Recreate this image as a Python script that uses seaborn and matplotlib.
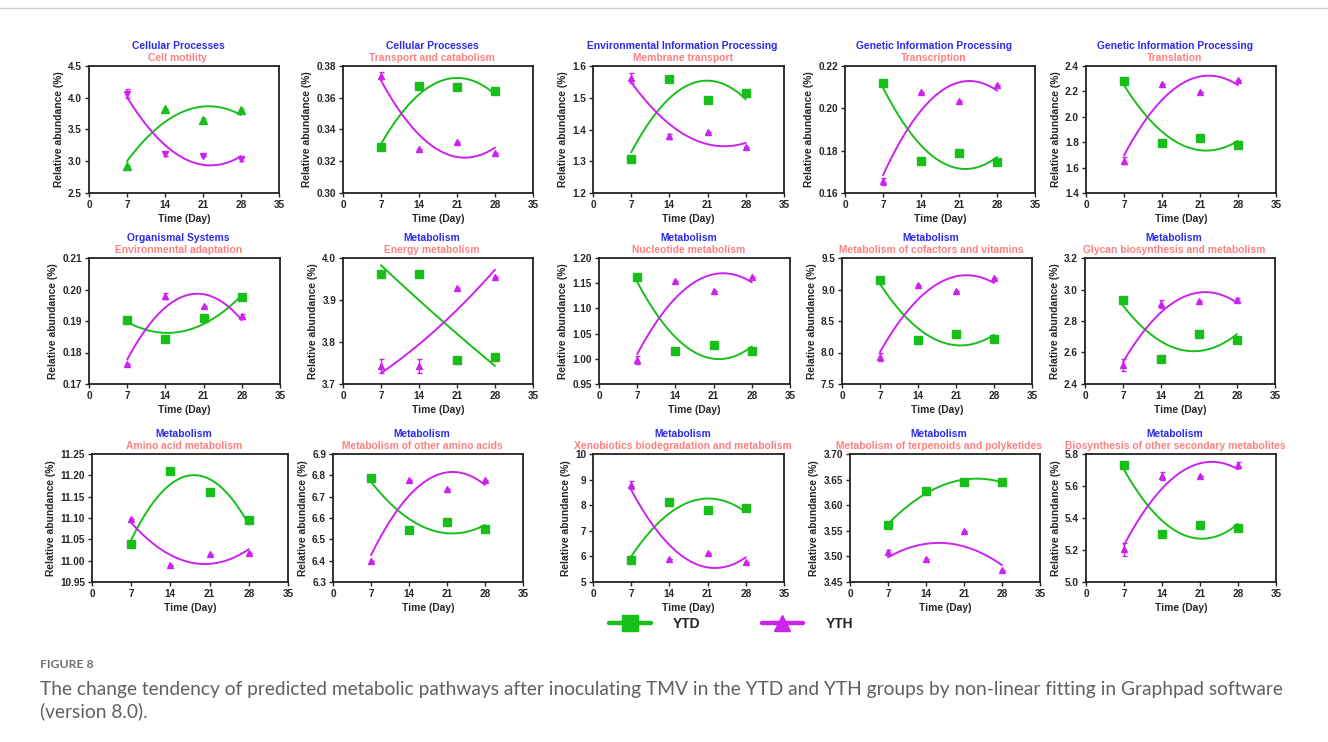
import matplotlib
matplotlib.use("Agg")
import matplotlib.pyplot as plt
import seaborn as sns
import numpy as np
from matplotlib.lines import Line2D

# ---- data ----
days = [7, 14, 21, 28]

categories = [
    "Cellular Processes", "Cellular Processes", "Environmental Information Processing",
    "Genetic Information Processing", "Genetic Information Processing",
    "Organismal Systems", "Metabolism", "Metabolism", "Metabolism", "Metabolism",
    "Metabolism", "Metabolism", "Metabolism", "Metabolism", "Metabolism",
]
pathways = [
    "Cell motility", "Transport and catabolism", "Membrane transport",
    "Transcription", "Translation",
    "Environmental adaptation", "Energy metabolism", "Nucleotide metabolism",
    "Metabolism of cofactors and vitamins", "Glycan biosynthesis and metabolism",
    "Amino acid metabolism", "Metabolism of other amino acids",
    "Xenobiotics biodegradation and metabolism",
    "Metabolism of terpenoids and polyketides",
    "Biosynthesis of other secondary metabolites",
]

no_sd = [0, 0, 0, 0]

# mean relative abundance (%) for YTD / YTH, SD where a bar is visible
motility_ytd = [2.93, 3.83, 3.65, 3.80]
motility_ytd_sd = [0, 0, 0.03, 0.02]
motility_yth = [4.06, 3.11, 3.09, 3.03]
motility_yth_sd = [0.07, 0.03, 0, 0.02]

transport_ytd = [0.329, 0.3675, 0.367, 0.364]
transport_yth = [0.374, 0.3275, 0.332, 0.3255]
transport_yth_sd = [0.002, 0, 0, 0]

membrane_ytd = [1.308, 1.558, 1.494, 1.515]
membrane_yth = [1.562, 1.378, 1.393, 1.345]
membrane_yth_sd = [0.015, 0.008, 0, 0]

transcription_ytd = [0.2122, 0.1753, 0.1788, 0.1746]
transcription_yth = [0.1655, 0.2075, 0.2037, 0.2112]
transcription_yth_sd = [0.0015, 0, 0, 0]

translation_ytd = [2.28, 1.79, 1.83, 1.78]
translation_yth = [1.655, 2.255, 2.195, 2.29]
translation_yth_sd = [0.03, 0, 0, 0]

adaptation_ytd = [0.1904, 0.1842, 0.1911, 0.1975]
adaptation_yth = [0.1765, 0.198, 0.1948, 0.1915]
adaptation_yth_sd = [0, 0.001, 0, 0.0008]

energy_ytd = [3.962, 3.962, 3.757, 3.764]
energy_yth = [3.743, 3.743, 3.928, 3.955]
energy_yth_sd = [0.017, 0.017, 0, 0]

nucleotide_ytd = [1.162, 1.015, 1.028, 1.015]
nucleotide_yth = [0.998, 1.154, 1.134, 1.163]
nucleotide_yth_sd = [0.008, 0, 0, 0]

cofactors_ytd = [9.15, 8.20, 8.30, 8.22]
cofactors_yth = [7.93, 9.07, 8.98, 9.18]
cofactors_yth_sd = [0.07, 0, 0, 0]

glycan_ytd = [2.935, 2.56, 2.72, 2.68]
glycan_ytd_sd = [0, 0, 0.015, 0]
glycan_yth = [2.52, 2.91, 2.925, 2.935]
glycan_yth_sd = [0.04, 0.025, 0, 0.01]

amino_ytd = [11.038, 11.21, 11.16, 11.095]
amino_ytd_sd = [0, 0, 0.005, 0.005]
amino_yth = [11.097, 10.99, 11.016, 11.019]

other_amino_ytd = [6.787, 6.545, 6.58, 6.55]
other_amino_yth = [6.40, 6.78, 6.738, 6.78]

xeno_ytd = [5.85, 8.12, 7.82, 7.88]
xeno_yth = [8.78, 5.9, 6.12, 5.78]
xeno_yth_sd = [0.15, 0, 0, 0]

terpenoid_ytd = [3.562, 3.627, 3.646, 3.646]
terpenoid_ytd_sd = [0.004, 0, 0, 0]
terpenoid_yth = [3.508, 3.495, 3.549, 3.473]
terpenoid_yth_sd = [0.005, 0, 0, 0]

secondary_ytd = [5.73, 5.30, 5.355, 5.335]
secondary_ytd_sd = [0, 0, 0.01, 0]
secondary_yth = [5.205, 5.66, 5.665, 5.73]
secondary_yth_sd = [0.04, 0.025, 0, 0.02]

# y axis: (min, max, step)
y_ranges = [
    (2.5, 4.5, 0.5), (0.30, 0.38, 0.02), (1.2, 1.6, 0.1), (0.16, 0.22, 0.02), (1.4, 2.4, 0.2),
    (0.17, 0.21, 0.01), (3.7, 4.0, 0.1), (0.95, 1.20, 0.05), (7.5, 9.5, 0.5), (2.4, 3.2, 0.2),
    (10.95, 11.25, 0.05), (6.3, 6.9, 0.1), (5, 10, 1), (3.45, 3.70, 0.05), (5.0, 5.8, 0.2),
]

ytd_all = [motility_ytd, transport_ytd, membrane_ytd, transcription_ytd, translation_ytd,
           adaptation_ytd, energy_ytd, nucleotide_ytd, cofactors_ytd, glycan_ytd,
           amino_ytd, other_amino_ytd, xeno_ytd, terpenoid_ytd, secondary_ytd]
ytd_sd_all = [motility_ytd_sd, no_sd, no_sd, no_sd, no_sd,
              no_sd, no_sd, no_sd, no_sd, glycan_ytd_sd,
              amino_ytd_sd, no_sd, no_sd, terpenoid_ytd_sd, secondary_ytd_sd]
yth_all = [motility_yth, transport_yth, membrane_yth, transcription_yth, translation_yth,
           adaptation_yth, energy_yth, nucleotide_yth, cofactors_yth, glycan_yth,
           amino_yth, other_amino_yth, xeno_yth, terpenoid_yth, secondary_yth]
yth_sd_all = [motility_yth_sd, transport_yth_sd, membrane_yth_sd, transcription_yth_sd, translation_yth_sd,
              adaptation_yth_sd, energy_yth_sd, nucleotide_yth_sd, cofactors_yth_sd, glycan_yth_sd,
              no_sd, no_sd, xeno_yth_sd, terpenoid_yth_sd, secondary_yth_sd]

# ---- style ----
sns.set_style("ticks")
plt.rcParams['font.family'] = ['Liberation Sans', 'DejaVu Sans']
plt.rcParams['font.weight'] = 'bold'
plt.rcParams['axes.labelweight'] = 'bold'

GREEN = "#19BF19"
MAGENTA = "#CC22EE"
BLUE = "#2A2AF0"
PINK = "#FF8080"

W, H = 1328, 742
fig = plt.figure(figsize=(W / 100, H / 100), dpi=100)

# panel layout in pixels
row_top = [66, 258, 454]
row_bottom = [193, 384, 582]
row_lefts = [[89, 343, 593, 845, 1086],
             [89, 343, 599, 842, 1085],
             [92, 333, 593, 850, 1086]]
row_widths = [[190, 190, 191, 190, 190],
              [191, 190, 191, 190, 190],
              [196, 190, 191, 190, 190]]

for i in range(15):
    r, c = divmod(i, 5)
    left, width = row_lefts[r][c], row_widths[r][c]
    ax = fig.add_axes([left / W, 1 - row_bottom[r] / H, width / W,
                       (row_bottom[r] - row_top[r]) / H])

    mk_ytd, mk_yth = ('^', 'v') if i == 0 else ('s', '^')

    # second order polynomial fit, as in the original GraphPad plots
    sns.regplot(x=days, y=ytd_all[i], order=2, ci=None, scatter=False, ax=ax,
                color=GREEN, line_kws={'lw': 1.4})
    sns.regplot(x=days, y=yth_all[i], order=2, ci=None, scatter=False, ax=ax,
                color=MAGENTA, line_kws={'lw': 1.4})
    ax.errorbar(days, ytd_all[i], yerr=ytd_sd_all[i], fmt=mk_ytd, color=GREEN,
                ms=5.3, capsize=1.8, elinewidth=1, capthick=1, zorder=4)
    ax.errorbar(days, yth_all[i], yerr=yth_sd_all[i], fmt=mk_yth, color=MAGENTA,
                ms=4.8, capsize=1.8, elinewidth=1, capthick=1, zorder=4)

    lo, hi, step = y_ranges[i]
    dec = max(0, int(np.ceil(-np.log10(step) - 1e-9)))
    yt = np.round(np.arange(lo, hi + step / 2, step), 6)
    ax.set_ylim(lo, hi)
    ax.set_yticks(yt)
    ax.set_yticklabels([f"{v:.{dec}f}" for v in yt])
    ax.set_xlim(0, 35)
    ax.set_xticks([0, 7, 14, 21, 28, 35])

    ax.set_xlabel("Time (Day)", fontsize=7.4, labelpad=3)
    ax.set_ylabel("Relative abundance (%)", fontsize=7.4, labelpad=3)
    ax.tick_params(labelsize=7.2, width=1, length=3, pad=2)
    for s in ax.spines.values():
        s.set_visible(True)
        s.set_linewidth(1.3)
        s.set_color("#222222")

    ax.annotate(categories[i], xy=(0.5, 1), xycoords='axes fraction',
                xytext=(-6, 20), textcoords='offset pixels', ha='center', va='center',
                color=BLUE, fontsize=7.4, fontweight='bold')
    ax.annotate(pathways[i], xy=(0.5, 1), xycoords='axes fraction',
                xytext=(-6, 8), textcoords='offset pixels', ha='center', va='center',
                color=PINK, fontsize=7.4, fontweight='bold')

# shared legend
handles = [Line2D([], [], color=GREEN, lw=3.2, marker='s', ms=11),
           Line2D([], [], color=MAGENTA, lw=3.2, marker='^', ms=12)]
fig.legend(handles, ["YTD", "YTH"], loc='center', bbox_to_anchor=(731 / W, 1 - 624 / H),
           ncol=2, frameon=False, fontsize=10, handlelength=3.0, handletextpad=1.6,
           columnspacing=4.4)

# page furniture: top rule and caption
fig.add_artist(Line2D([0, 1], [1 - 8 / H] * 2, color="#d0d0d0", lw=1))
fig.text(40 / W, 1 - 664 / H, "FIGURE 8", fontsize=8.8, color="#707070",
         family=['Lato', 'DejaVu Sans'], fontweight='bold', va='center')
fig.text(40 / W, 1 - 690 / H,
         "The change tendency of predicted metabolic pathways after inoculating TMV in the YTD "
         "and YTH groups by non-linear fitting in Graphpad software",
         fontsize=13.8, color="#606060", family=['Lato', 'DejaVu Sans'],
         fontweight='normal', va='center')
fig.text(40 / W, 1 - 711 / H, "(version 8.0).", fontsize=13.8, color="#606060",
         family=['Lato', 'DejaVu Sans'], fontweight='normal', va='center')

fig.savefig("out.png", dpi=100, facecolor='white')
